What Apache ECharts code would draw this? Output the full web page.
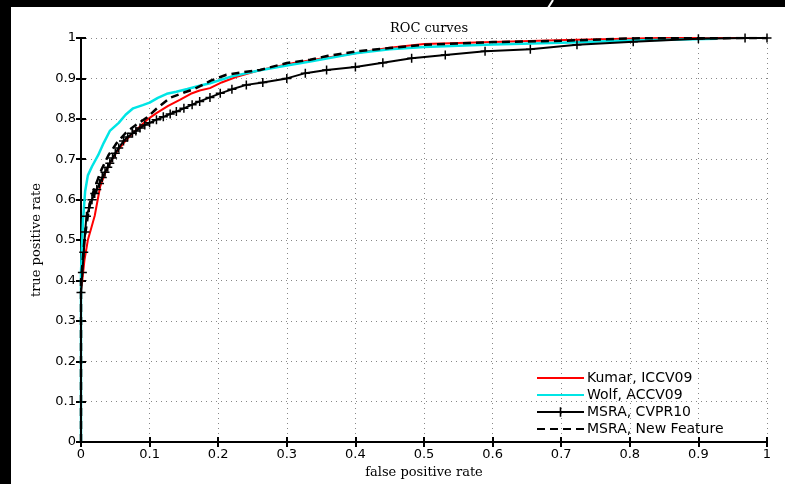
<!DOCTYPE html>
<html>
<head>
<meta charset="utf-8">
<script src="https://cdn.jsdelivr.net/npm/echarts@6/dist/echarts.min.js"></script>
<style>
html,body{margin:0;padding:0;background:#fff}
#main{width:785px;height:484px}
</style>
</head>
<body>
<div id="main"></div>
<script>
(function(){
	// ROC points: [false positive rate, true positive rate]
	var kumar = [
		[0,0],[0,0.37],[0.005,0.45],[0.01,0.5],[0.015,0.53],[0.02,0.56],[0.028,0.633],
		[0.035,0.665],[0.042,0.69],[0.052,0.718],[0.062,0.74],[0.074,0.762],[0.086,0.781],
		[0.098,0.8],[0.11,0.814],[0.127,0.832],[0.144,0.847],[0.16,0.862],[0.173,0.87],
		[0.188,0.876],[0.205,0.89],[0.227,0.904],[0.26,0.92],[0.31,0.938],[0.36,0.952],
		[0.407,0.964],[0.45,0.976],[0.5,0.985],[0.6,0.99],[0.708,0.995],[0.844,1],[1,1]
	];
	var wolf = [
		[0,0],[0,0.42],[0.003,0.55],[0.006,0.62],[0.01,0.66],[0.016,0.682],[0.025,0.71],
		[0.033,0.74],[0.042,0.77],[0.055,0.79],[0.065,0.81],[0.076,0.826],[0.09,0.834],
		[0.1,0.84],[0.112,0.852],[0.125,0.862],[0.139,0.867],[0.155,0.874],[0.173,0.882],
		[0.188,0.888],[0.22,0.905],[0.261,0.92],[0.3,0.932],[0.334,0.942],[0.4,0.962],
		[0.45,0.972],[0.5,0.978],[0.6,0.984],[0.7,0.988],[0.8,0.994],[0.927,0.998]
	];
	var msraCvpr = [
		[0,0],[0,0.37],[0.002,0.42],[0.004,0.47],[0.006,0.52],[0.008,0.559],[0.012,0.58],
		[0.016,0.6],[0.02,0.615],[0.023,0.625],[0.027,0.64],[0.031,0.655],[0.035,0.668],
		[0.039,0.68],[0.042,0.69],[0.046,0.703],[0.05,0.715],[0.055,0.728],[0.062,0.745],
		[0.068,0.755],[0.075,0.764],[0.08,0.77],[0.086,0.777],[0.093,0.785],[0.1,0.79],
		[0.11,0.798],[0.12,0.805],[0.13,0.812],[0.139,0.818],[0.15,0.826],[0.162,0.835],
		[0.173,0.843],[0.188,0.853],[0.203,0.863],[0.22,0.873],[0.241,0.884],[0.265,0.89],
		[0.3,0.9],[0.327,0.913],[0.358,0.921],[0.4,0.928],[0.44,0.939],[0.482,0.95],
		[0.531,0.958],[0.589,0.967],[0.655,0.972],[0.723,0.983],[0.805,0.991],[0.9,0.998],
		[0.968,1],[1,1]
	];
	var msraNew = [
		[0,0],[0,0.4],[0.005,0.5],[0.01,0.56],[0.013,0.592],[0.02,0.63],[0.03,0.675],
		[0.04,0.71],[0.052,0.74],[0.065,0.765],[0.08,0.785],[0.096,0.803],[0.11,0.825],
		[0.13,0.852],[0.15,0.865],[0.164,0.873],[0.19,0.895],[0.212,0.909],[0.235,0.915],
		[0.261,0.921],[0.3,0.938],[0.334,0.946],[0.36,0.956],[0.407,0.968],[0.45,0.975],
		[0.5,0.983],[0.6,0.99],[0.7,0.993],[0.8,0.999],[1,1]
	];
	var names = ['Kumar, ICCV09','Wolf, ACCV09','MSRA, CVPR10','MSRA, New Feature'];

	var plus = 'path://M-1,-6H1V-1H6V1H1V6H-1V1H-6V-1H-1Z';
	var tickFmt = function(v){ return String(+v.toFixed(1)); };
	var labelStyle = {color:'#000', fontFamily:'DejaVu Sans', fontSize:13};
	var lineAxis = {lineStyle:{color:'#000', width:2}};
	var noSym = {opacity:0};

	var option = {
		animation: false,
		backgroundColor: '#fff',
		title: {
			text: 'ROC curves',
			left: 424,
			top: 17,
			textAlign: 'center',
			textStyle: {color:'#000', fontFamily:'DejaVu Serif', fontSize:13, fontWeight:'normal'}
		},
		grid: {left:81, right:18, top:38, bottom:41},
		legend: {
			orient: 'vertical',
			left: 531,
			top: 366,
			padding: 5,
			itemWidth: 47,
			itemHeight: 12,
			itemGap: 3,
			textStyle: {color:'#000', fontFamily:'DejaVu Sans', fontSize:14, lineHeight:14, padding:[0,0,0,-2]},
			data: [
				{name:names[0], itemStyle:noSym},
				{name:names[1], itemStyle:noSym},
				{name:names[2]},
				{name:names[3], itemStyle:noSym}
			]
		},
		xAxis: [{
			type:'value', min:0, max:1, interval:0.1,
			name:'false positive rate', nameLocation:'middle', nameGap:18,
			nameTextStyle:{color:'#000', fontFamily:'DejaVu Serif', fontSize:13},
			axisLine: lineAxis,
			axisTick:{inside:true, length:5, lineStyle:{color:'#000', width:2}},
			axisLabel:Object.assign({margin:6, formatter:tickFmt}, labelStyle),
			splitLine:{show:true, lineStyle:{color:'#888', width:1, type:[1,4]}}
		},{
			type:'value', min:0, max:1, interval:0.1, position:'top',
			axisLine: lineAxis,
			axisTick:{inside:true, length:5, lineStyle:{color:'#000', width:2}},
			axisLabel:{show:false}, splitLine:{show:false}
		}],
		yAxis: [{
			type:'value', min:0, max:1, interval:0.1,
			name:'true positive rate', nameLocation:'middle', nameGap:38,
			nameTextStyle:{color:'#000', fontFamily:'DejaVu Serif', fontSize:13},
			axisLine: lineAxis,
			axisTick:{inside:true, length:5, lineStyle:{color:'#000', width:2}},
			axisLabel:Object.assign({margin:5, formatter:tickFmt}, labelStyle),
			splitLine:{show:true, lineStyle:{color:'#888', width:1, type:[1,4]}}
		},{
			type:'value', min:0, max:1, interval:0.1, position:'right',
			axisLine: lineAxis,
			axisTick:{inside:true, length:5, lineStyle:{color:'#000', width:2}},
			axisLabel:{show:false}, splitLine:{show:false}
		}],
		series: [{
			name: names[0], type:'line', data:kumar, symbol:'none',
			lineStyle:{color:'#ff0000', width:2}, itemStyle:{color:'#ff0000'}
		},{
			name: names[1], type:'line', data:wolf, symbol:'none',
			lineStyle:{color:'#00e5e5', width:2.5}, itemStyle:{color:'#00e5e5'}
		},{
			name: names[2], type:'line', data:msraCvpr, symbol:plus, symbolSize:9,
			showSymbol:true, showAllSymbol:true,
			lineStyle:{color:'#000', width:2}, itemStyle:{color:'#000'}
		},{
			name: names[3], type:'line', data:msraNew, symbol:'none',
			lineStyle:{color:'#000', width:2.5, type:[8,5]}, itemStyle:{color:'#000'}
		}],
		graphic: [
			{type:'rect', left:0, top:0, shape:{width:785, height:7}, style:{fill:'#000'}, z:100},
			{type:'rect', left:0, top:0, shape:{width:11, height:484}, style:{fill:'#000'}, z:100},
			{type:'line', shape:{x1:548, y1:8, x2:553, y2:0}, style:{stroke:'#fff', lineWidth:2}, z:101}
		]
	};

	var chart = echarts.init(document.getElementById('main'));
	chart.setOption(option);
})();
</script>
</body>
</html>
